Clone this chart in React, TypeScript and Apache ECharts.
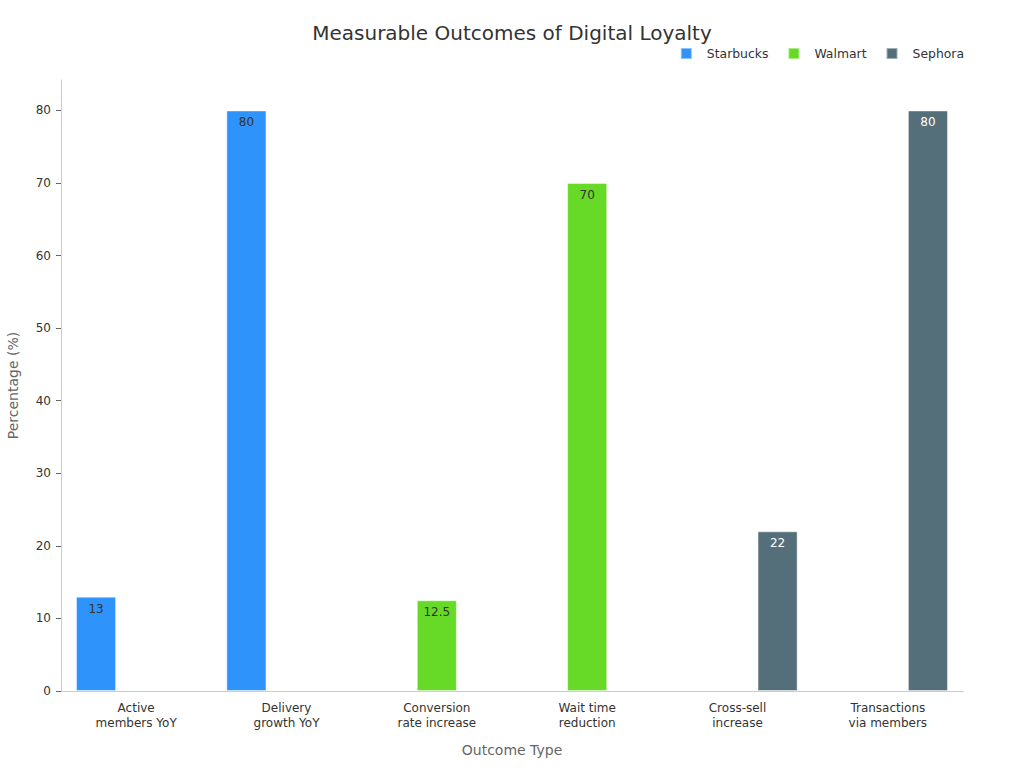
import React, { useEffect, useRef } from "react";
import * as echarts from "echarts";

const categories = [
  "Active\nmembers YoY",
  "Delivery\ngrowth YoY",
  "Conversion\nrate increase",
  "Wait time\nreduction",
  "Cross-sell\nincrease",
  "Transactions\nvia members",
];
const starbucks = [13, 80, null, null, null, null];
const walmart = [null, null, 12.5, 70, null, null];
const sephora = [null, null, null, null, 22, 80];
const yTicks = [0, 10, 20, 30, 40, 50, 60, 70, 80];

const FONT = "DejaVu Sans";

export default function App() {
  const ref = useRef<HTMLDivElement>(null);
  useEffect(() => {
    if (!ref.current) return;
    const chart = echarts.init(ref.current, undefined, { renderer: "svg" });
    const mk = (name: string, data: (number | null)[], color: string, labelColor: string) => ({
      name,
      type: "bar",
      data,
      barGap: "0%",
      barCategoryGap: "20%",
      itemStyle: { color, borderColor: "rgba(255,255,255,0.45)", borderWidth: 1 },
      label: {
        show: true,
        position: "insideTop",
        distance: 6,
        color: labelColor,
        fontSize: 12,
        fontFamily: FONT,
      },
    });
    chart.setOption({
      animation: false,
      textStyle: { fontFamily: FONT },
      title: {
        text: "Measurable Outcomes of Digital Loyalty",
        left: "center",
        top: 18,
        textStyle: { fontSize: 20, fontWeight: "normal", color: "#333", fontFamily: FONT },
      },
      legend: {
        right: 55,
        top: 42,
        itemWidth: 11,
        itemHeight: 11,
        itemGap: 19,
        icon: "rect",
        textStyle: { fontSize: 12.4, color: "#333", fontFamily: FONT, padding: [0, 0, 0, 10] },
        data: ["Starbucks", "Walmart", "Sephora"],
      },
      grid: { left: 61, right: 61, top: 80, bottom: 77, containLabel: false, outerBoundsMode: "none" },
      xAxis: {
        type: "category",
        data: categories,
        name: "Outcome Type",
        nameLocation: "middle",
        nameGap: 52,
        nameTextStyle: { fontSize: 14, color: "#666", fontFamily: FONT },
        axisLine: { lineStyle: { color: "#ccc" } },
        axisTick: { alignWithLabel: true, lineStyle: { color: "#666" } },
        axisLabel: { fontSize: 12, color: "#333", lineHeight: 15, fontFamily: FONT, interval: 0, margin: 9 },
      },
      yAxis: {
        type: "value",
        min: 0,
        max: 84.2,
        interval: 10,
        name: "Percentage (%)",
        nameLocation: "middle",
        nameGap: 41,
        nameTextStyle: { fontSize: 14, color: "#666", fontFamily: FONT },
        axisLine: { show: true, lineStyle: { color: "#ccc" } },
        axisTick: { show: true, length: 5, customValues: yTicks, lineStyle: { color: "#666" } },
        axisLabel: { fontSize: 12, color: "#333", fontFamily: FONT, customValues: yTicks, margin: 10 },
        splitLine: { show: false },
      },
      series: [
        mk("Starbucks", starbucks, "#2E93fA", "#333"),
        mk("Walmart", walmart, "#66DA26", "#333"),
        mk("Sephora", sephora, "#546E7A", "#fff"),
      ],
    });
    return () => chart.dispose();
  }, []);
  return <div ref={ref} style={{ width: 1024, height: 768, position: "absolute", left: 0, top: 0 }} />;
}
